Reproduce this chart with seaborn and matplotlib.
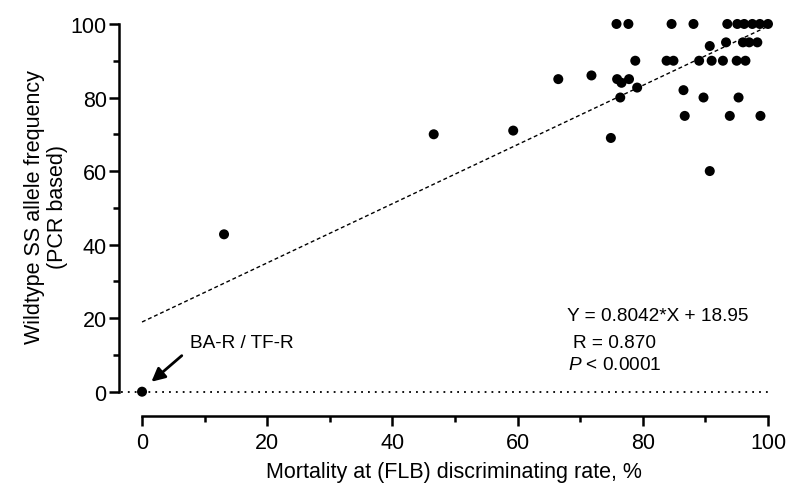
import matplotlib
matplotlib.use("Agg")
import matplotlib.pyplot as plt
from matplotlib.ticker import MultipleLocator
import seaborn as sns
import pandas as pd

# Mortality at the discriminating rate (%) and wildtype SS allele frequency (%)
mortality = [0, 13.1, 46.6, 59.3, 66.5, 71.8, 74.9, 75.8, 77.7, 75.9,
             77.8, 76.6, 79.1, 76.4, 78.8, 83.8, 84.9, 84.6, 88.1, 86.5,
             86.7, 89.7, 89.0, 90.7, 90.7, 91.0, 92.8, 93.3, 93.5, 93.9,
             95.3, 95.0, 96.4, 96.0, 97.0, 98.3, 95.1, 96.2, 97.5, 98.7,
             100.0, 98.8]
ss_freq = [0, 42.8, 70, 71, 85, 86, 69, 100, 100, 85,
           85, 84, 82.7, 80, 90, 90, 90, 100, 100, 82,
           75, 80, 90, 94, 60, 90, 90, 95, 100, 75,
           80, 90, 90, 95, 95, 95, 100, 100, 100, 100,
           100, 75]

# Linear regression summary
slope = 0.8042
intercept = 18.95
r_value = "0.870"
p_text = "< 0.0001"
fit_x = [0, 100]

x_ticks = [0, 20, 40, 60, 80, 100]
y_ticks = [0, 20, 40, 60, 80, 100]

df = pd.DataFrame({"mortality": mortality, "ss": ss_freq})
fit = pd.DataFrame({"x": fit_x, "y": [slope * v + intercept for v in fit_x]})

sns.set_theme(style="ticks")
plt.rcParams["font.family"] = ["Liberation Sans", "DejaVu Sans"]
plt.rcParams["mathtext.fontset"] = "custom"
plt.rcParams["mathtext.rm"] = "Liberation Sans"
plt.rcParams["mathtext.it"] = "Liberation Sans:italic"

fig = plt.figure(figsize=(7.86, 4.85), dpi=100)
ax = fig.add_axes([0.1508, 0.1408, 0.8422, 0.8229])

# zero reference line
ax.hlines(0, -3.3, 100, colors="black", linewidth=1.3,
          linestyles=(0, (1, 2.8)), zorder=1)

# regression line
sns.lineplot(data=fit, x="x", y="y", ax=ax, color="black", linewidth=1.0,
             dashes=False, zorder=2)
ax.lines[-1].set_dashes((2.8, 2.0))

sns.scatterplot(data=df, x="mortality", y="ss", ax=ax, color="black",
                s=52, edgecolor="none", linewidth=0, zorder=3, clip_on=False)

ax.set_xlim(-3.754, 102)
ax.set_ylim(-6.53, 102)

for side in ("top", "right"):
    ax.spines[side].set_visible(False)
for side in ("left", "bottom"):
    ax.spines[side].set_linewidth(1.8)
    ax.spines[side].set_color("black")
ax.spines["left"].set_bounds(0, 100)
ax.spines["bottom"].set_bounds(0, 100)

ax.set_xticks(x_ticks)
ax.set_yticks(y_ticks)
ax.xaxis.set_minor_locator(MultipleLocator(10))
ax.yaxis.set_minor_locator(MultipleLocator(10))
ax.tick_params(axis="both", which="major", direction="out", length=7,
               width=1.8, color="black", labelsize=15.5, labelcolor="black")
ax.tick_params(axis="both", which="minor", direction="out", length=4.2,
               width=1.8, color="black")
ax.tick_params(axis="x", which="major", pad=5)
ax.tick_params(axis="y", which="major", pad=1.5)

ax.set_xlabel("Mortality at (FLB) discriminating rate, %", fontsize=15.5,
              color="black")
ax.set_ylabel("Wildtype SS allele frequency\n(PCR based)", fontsize=15.5,
              color="black", linespacing=1.1)
ax.xaxis.set_label_coords(0.507, -0.113)
ax.yaxis.set_label_coords(-0.077, 0.525)

ax.text(67.9, 20.7, f"Y = {slope:.4f}*X + {intercept:.2f}", fontsize=13.7,
        ha="left", va="center", color="black")
ax.text(68.8, 13.3, f"R = {r_value}", fontsize=13.7, ha="left", va="center",
        color="black")
ax.text(68.1, 7.3, r"$P$" + f" {p_text}", fontsize=13.7, ha="left",
        va="center", color="black")

ax.text(7.7, 13.3, "BA-R / TF-R", fontsize=13.7, ha="left", va="center",
        color="black")
ax.annotate("", xy=(1.5, 2.7), xytext=(6.35, 9.8),
            arrowprops=dict(arrowstyle="-|>", color="black", lw=2.0,
                            mutation_scale=20, shrinkA=0, shrinkB=0))

fig.savefig("out.png", dpi=100)
